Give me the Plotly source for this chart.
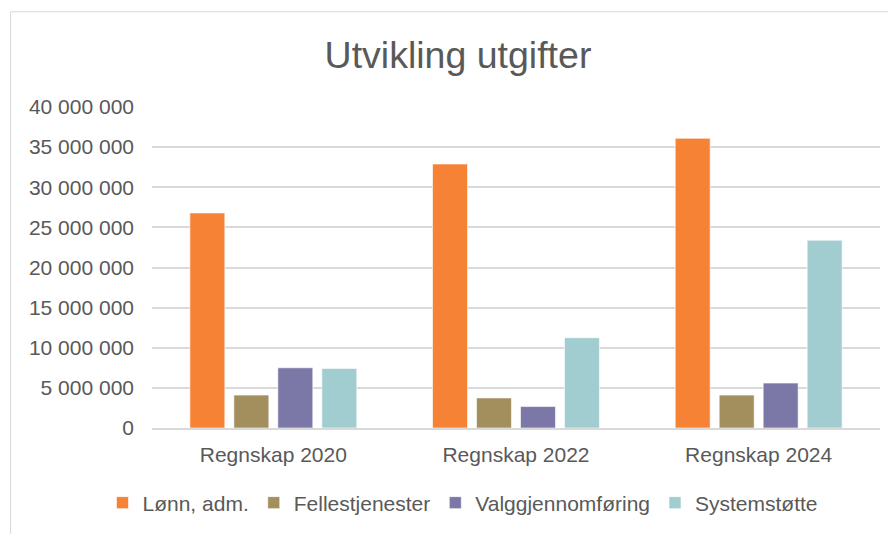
import plotly.graph_objects as go

categories = ["Regnskap 2020", "Regnskap 2022", "Regnskap 2024"]
lonn_adm = [26_800_000, 32_900_000, 36_100_000]
fellestjenester = [4_100_000, 3_750_000, 4_100_000]
valggjennomforing = [7_500_000, 2_670_000, 5_600_000]
systemstotte = [7_420_000, 11_250_000, 23_400_000]

series = [
    ("Lønn, adm.", lonn_adm, "#F58235"),
    ("Fellestjenester", fellestjenester, "#A38F5E"),
    ("Valggjennomføring", valggjennomforing, "#7B77A7"),
    ("Systemstøtte", systemstotte, "#A2CDD0"),
]

# page body has an 8px default margin; work in reference pixels and shift
OFF = 8
W, H = 896 - OFF, 534 - OFF
PL, PR, PT, PB = 152, 880, 107, 429  # plot area in reference pixels
L, R, T, B = PL - OFF, W - (PR - OFF), PT - OFF, H - (PB - OFF)
pw, ph = PR - PL, PB - PT

fig = go.Figure()
for name, vals, col in series:
    fig.add_trace(go.Bar(x=categories, y=vals, name=name, marker_color=col,
                         marker_line=dict(color="rgba(255,255,255,0.6)", width=1)))

def px_x(p):
    return (p - PL) / pw

def px_y(p):
    return (PB - p) / ph

FS = 21
fig.update_layout(
    width=W, height=H,
    margin=dict(l=L, r=R, t=T, b=B),
    paper_bgcolor="white", plot_bgcolor="white",
    font=dict(family="Liberation Sans, Arial, sans-serif", color="#595959", size=FS),
    separators=", ",
    title=dict(text="Utvikling utgifter", x=px_x(458), xanchor="center", xref="paper",
               y=1 - (55 - OFF) / H, yanchor="middle", yref="container",
               font=dict(size=37.5, color="#595959")),
    barmode="group", bargap=0.275, bargroupgap=0.205,
    showlegend=True,
    legend=dict(orientation="h", x=px_x(463), xanchor="center", xref="paper",
                y=px_y(503), yanchor="middle", font=dict(size=FS, color="#595959"),
                itemwidth=30, tracegroupgap=0),
    shapes=[dict(type="rect", xref="paper", yref="paper",
                 x0=px_x(10.5), x1=px_x(905), y0=px_y(545), y1=px_y(11.5),
                 line=dict(color="#D9D9D9", width=1), fillcolor="rgba(0,0,0,0)", layer="below")],
)
fig.update_yaxes(range=[0, 40_000_000], dtick=5_000_000, tickformat=",d",
                 showgrid=True, gridcolor="#D9D9D9", gridwidth=1.5,
                 zeroline=False, showline=False, ticks="",
                 ticklabelstandoff=17, tickfont=dict(size=FS, color="#595959"))
fig.update_xaxes(showgrid=False, showline=True, linecolor="#D9D9D9", linewidth=1.5,
                 ticks="", ticklabelstandoff=7, tickfont=dict(size=FS, color="#595959"))

fig.write_html("out.html")
